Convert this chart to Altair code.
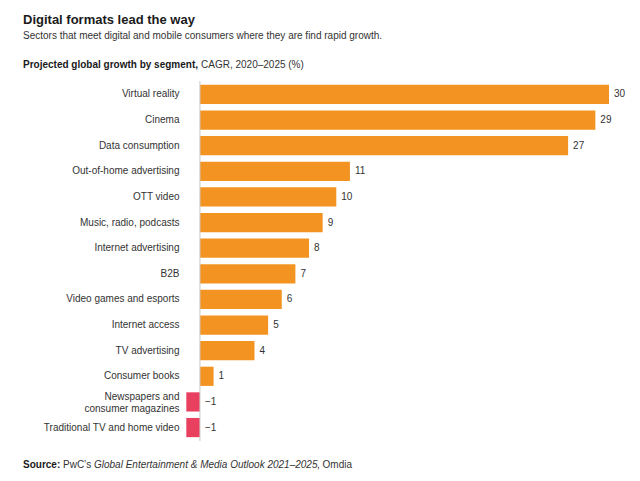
import altair as alt
import pandas as pd

categories = [
    "Virtual reality", "Cinema", "Data consumption", "Out-of-home advertising",
    "OTT video", "Music, radio, podcasts", "Internet advertising", "B2B",
    "Video games and esports", "Internet access", "TV advertising",
    "Consumer books", "Newspapers and consumer magazines",
    "Traditional TV and home video",
]
values = [30, 29, 27, 11, 10, 9, 8, 7, 6, 5, 4, 1, -1, -1]

title_text = "Digital formats lead the way"
subtitle_text = "Sectors that meet digital and mobile consumers where they are find rapid growth."
axis_title_bold = "Projected global growth by segment,"
axis_title_rest = "CAGR, 2020\u20132025 (%)"
source_bold = "Source:"
source_pre = "PwC\u2019s"
source_italic = "Global Entertainment & Media Outlook 2021\u20132025"
source_post = ", Omdia"

FONT = "Liberation Sans"
ORANGE = "#F39422"
PINK = "#E8405E"

df = pd.DataFrame({"segment": categories, "value": values})

base = alt.Chart(df).transform_calculate(
    pos="max(datum.value, 0)",
    label="datum.value < 0 ? '\u2212' + abs(datum.value) : '' + datum.value",
)

xscale = alt.Scale(domain=[-1.17, 30], nice=False, zero=False)
two_line = "datum.label == 'Newspapers and consumer magazines'"
yenc = alt.Y(
    "segment:N",
    sort=categories,
    title=None,
    scale=alt.Scale(paddingInner=0.25, paddingOuter=0.15),
    axis=alt.Axis(
        domain=False, ticks=False, grid=False, labelPadding=5,
        labelFont=FONT, labelFontSize=10, labelColor="#333333",
        labelLineHeight=12, labelLimit=300,
        labelOffset=alt.condition(two_line, alt.value(-5), alt.value(0)),
        labelExpr=two_line + " ? ['Newspapers and', 'consumer magazines'] : datum.label",
    ),
)

bars = base.mark_bar().encode(
    x=alt.X("value:Q", scale=xscale, axis=None),
    x2=alt.datum(0),
    y=yenc,
    color=alt.condition(alt.datum.value < 0, alt.value(PINK), alt.value(ORANGE)),
)

labels = base.mark_text(
    align="left", baseline="middle", dx=5, font=FONT, fontSize=10, color="#333333"
).encode(
    x=alt.X("pos:Q", scale=xscale, axis=None),
    y=alt.Y("segment:N", sort=categories),
    text="label:N",
)

zero_rule = alt.Chart(pd.DataFrame({"z": [0]})).mark_rule(
    color="#c8c8c8", strokeWidth=1
).encode(x=alt.X("z:Q", scale=xscale, axis=None))


def note(text, x, y, size=10, weight="normal", style="normal", color="#1a1a1a"):
    return alt.Chart(pd.DataFrame({"t": [text]})).mark_text(
        align="left", baseline="alphabetic", font=FONT, fontSize=size,
        fontWeight=weight, fontStyle=style, color=color,
    ).encode(x=alt.value(x), y=alt.value(y), text="t:N")


notes = [
    note(title_text, -161, -57.5, size=13, weight="bold"),
    note(subtitle_text, -161, -42, size=10, color="#333333"),
    note(axis_title_bold, -161, -13, size=10, weight="bold"),
    note(axis_title_rest, 17, -13, size=10, color="#333333"),
    note(source_bold, -161, 387, size=10, weight="bold"),
    note(source_pre, -121, 387, size=10, color="#333333"),
    note(source_italic, -90, 387, size=10, style="italic", color="#333333"),
    note(source_post, 133, 387, size=10, color="#333333"),
]

chart = alt.layer(bars, zero_rule, labels, *notes).properties(
    width=425,
    height=360,
    padding={"left": 176, "top": 73, "right": 23, "bottom": 32},
    autosize=alt.AutoSizeParams(type="none"),
    background="white",
).configure_view(stroke=None, strokeWidth=0)

chart.save("out.html", embed_options={"renderer": "svg", "actions": False})
